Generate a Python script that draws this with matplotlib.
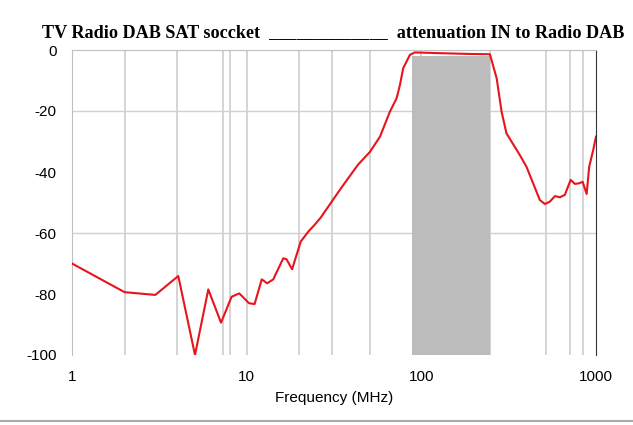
import numpy as np
import matplotlib
matplotlib.use("Agg")
from matplotlib import pyplot as plt
from matplotlib.ticker import FixedLocator, NullFormatter

# measured response, frequency in MHz and attenuation in dB
freq_mhz = [1, 2.0, 3.0, 4.06, 5.06, 6.03, 7.13, 8.2, 9.07, 10.3, 11.1, 12.2, 13.1, 14.2,
            16.2, 16.9, 18.2, 20.4, 22.5, 24.6, 26.5, 35, 43.4, 50.8, 58, 66.1, 72.2, 75.4,
            78.7, 86, 91.7, 139.6, 190, 247, 270, 288, 307, 366, 400, 477, 510, 545, 582,
            621, 663, 716, 757, 802, 838, 884, 914, 964, 1000]
atten_db = [-70, -79.4, -80.3, -74.1, -100, -78.5, -89.4, -80.9, -79.8, -83, -83.3, -75.2, -76.5, -75.2,
            -68.3, -68.6, -71.9, -62.8, -59.6, -57.2, -55, -45, -37.6, -33.4, -28.4, -20.2, -15.8, -11.5,
            -6, -1.6, -0.8, -1.1, -1.3, -1.4, -9.3, -20.2, -27.3, -34.4, -38.3, -49.2, -50.5, -49.7, -47.9,
            -48.3, -47.5, -42.6, -43.9, -43.7, -43.2, -47.2, -38.3, -32.8, -28.4]

# pass band of the radio DAB output
band_lo = 88
band_hi = 247
band_top = -2

yticks = [0, -20, -40, -60, -80, -100]
xticks = [1, 10, 100, 1000]
# vertical grid lines as drawn in the original (not a full log grid)
xgrid = [2, 4, 7.3, 8, 10, 20, 31, 51, 100, 247, 520, 710, 840]
ygrid = [-20, -60]

fig = plt.figure(figsize=(6.33, 4.25), dpi=100)
ax = fig.add_axes([72/633, 1-355/425, (596-72)/633, (355-50)/425])

for x in xgrid:
    ax.axvline(x, color='#cdcdcd', lw=1.2, zorder=0)
for y in ygrid:
    ax.axhline(y, color='#d0d0d0', lw=1.0, zorder=0)

ax.fill_between([band_lo, band_hi], [band_top, band_top], -100, color='#bcbcbc', lw=0, zorder=2)
ax.plot(freq_mhz, atten_db, color='#e8141c', lw=1.5, zorder=3)

ax.set_xscale('log')
ax.set_xlim(1, 1000)
ax.set_ylim(-100, 0)
ax.set_yticks(yticks)
ax.set_yticklabels([str(v) for v in yticks])
ax.set_xticks(xticks)
ax.set_xticklabels([str(v) for v in xticks])
ax.xaxis.set_minor_locator(FixedLocator([]))
ax.xaxis.set_minor_formatter(NullFormatter())

ax.tick_params(which='both', length=0, labelsize=11, colors='black', pad=11)
for lab in ax.get_xticklabels() + ax.get_yticklabels():
    lab.set_family(['Liberation Sans', 'DejaVu Sans'])

ax.spines['bottom'].set_visible(False)
ax.spines['left'].set_color('#c0c0c0')
ax.spines['top'].set_color('#c0c0c0')
ax.spines['right'].set_color('#333333')

ax.set_xlabel('Frequency (MHz)', fontsize=11, family=['Liberation Sans', 'DejaVu Sans'], labelpad=5)

fig.text(0.527, 1-33/425, 'TV Radio DAB SAT soccket  _____________  attenuation IN to Radio DAB',
         ha='center', va='center', fontsize=13.1, fontweight='bold',
         family=['Liberation Serif', 'DejaVu Serif'])

fig.add_artist(plt.Line2D([0, 1], [1-421/425, 1-421/425], color='#aaaaaa', lw=1.5))

fig.savefig('out.png', dpi=100)
